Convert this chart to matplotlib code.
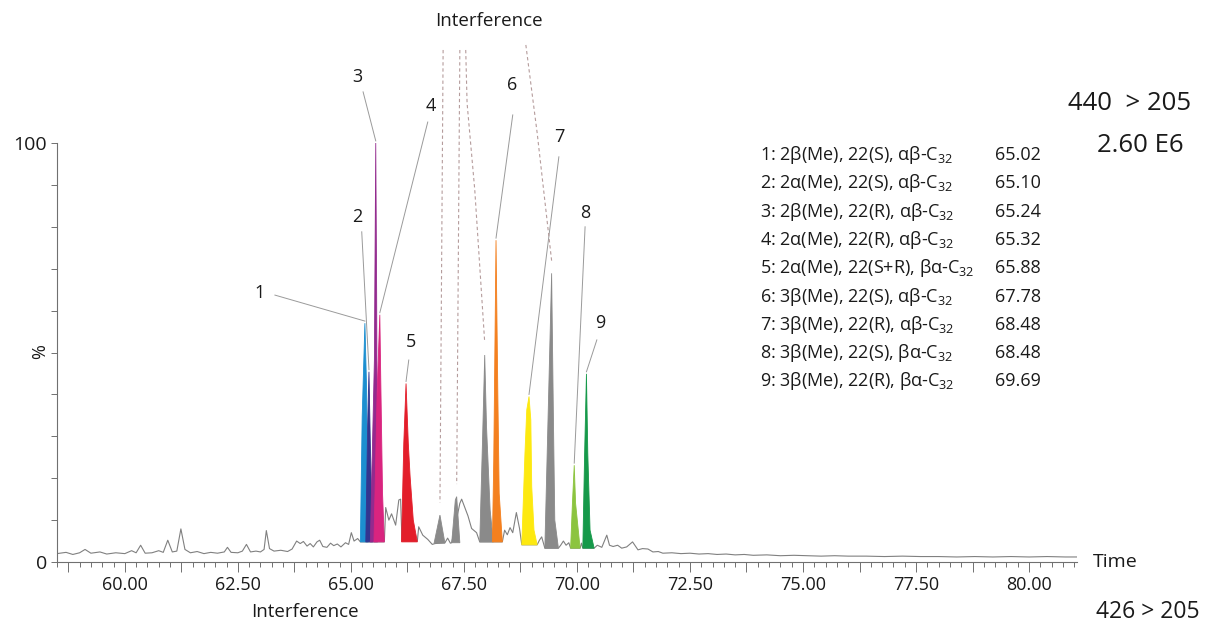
import matplotlib
matplotlib.use('Agg')
import matplotlib.pyplot as plt
from matplotlib.ticker import MultipleLocator, FixedLocator, FuncFormatter

plt.rcParams['font.family'] = ['Open Sans', 'DejaVu Sans']
plt.rcParams['mathtext.fontset'] = 'custom'
plt.rcParams['mathtext.rm'] = 'Open Sans'
plt.rcParams['mathtext.it'] = 'Open Sans:italic'

# --- chromatogram trace, 440 > 205 (time in min, intensity in %) ---
TRACE_POINTS = [
    (58.50, 2.0), (58.70, 2.3), (58.85, 1.8), (59.00, 2.2), (59.12, 3.0), (59.25, 2.1),
    (59.45, 2.4), (59.60, 1.9), (59.80, 2.2), (60.00, 2.0), (60.15, 2.7), (60.25, 2.2),
    (60.35, 4.0), (60.45, 2.1), (60.60, 2.2), (60.75, 2.7), (60.85, 2.3), (60.95, 5.2),
    (61.05, 2.4), (61.15, 2.6), (61.24, 7.9), (61.33, 3.0), (61.45, 2.2), (61.60, 2.5),
    (61.75, 2.0), (61.90, 2.3), (62.05, 2.1), (62.20, 2.4), (62.27, 3.5), (62.35, 2.3),
    (62.50, 2.2), (62.60, 2.6), (62.69, 4.2), (62.78, 2.4), (62.90, 2.6), (63.00, 2.4),
    (63.08, 3.0), (63.13, 7.5), (63.20, 3.2), (63.30, 2.6), (63.45, 2.8), (63.60, 2.5),
    (63.70, 3.1), (63.80, 5.0), (63.88, 4.4), (63.95, 4.9), (64.03, 3.8), (64.10, 4.4),
    (64.17, 3.6), (64.25, 4.8), (64.31, 5.2), (64.38, 3.7), (64.47, 3.5), (64.55, 4.5),
    (64.62, 3.9), (64.70, 4.3), (64.78, 3.6), (64.88, 4.6), (64.95, 4.2), (65.01, 7.0),
    (65.07, 5.0), (65.15, 5.6), (65.21, 4.8), (65.74, 4.8), (65.77, 13.0), (65.84, 10.0),
    (65.90, 11.5), (65.99, 8.8), (66.06, 14.8), (66.10, 15.0), (66.13, 5.0), (66.47, 5.0),
    (66.50, 8.4), (66.59, 6.4), (66.70, 5.4), (66.80, 4.2), (66.86, 4.4), (67.08, 4.6),
    (67.14, 5.7), (67.20, 4.5), (67.23, 4.6), (67.41, 14.0), (67.45, 15.0), (67.52, 13.0),
    (67.59, 11.0), (67.67, 8.0), (67.78, 7.0), (67.85, 4.8), (68.35, 4.8), (68.40, 7.6),
    (68.46, 6.5), (68.52, 8.2), (68.58, 7.0), (68.66, 11.8), (68.73, 8.0), (68.78, 4.1),
    (69.12, 4.1), (69.17, 5.2), (69.22, 6.0), (69.29, 3.3), (69.59, 3.3), (69.64, 4.0),
    (69.70, 5.0), (69.76, 4.0), (69.82, 4.6), (69.86, 3.3), (70.07, 3.3), (70.10, 4.5),
    (70.13, 3.3), (70.38, 3.3), (70.45, 4.0), (70.55, 3.5), (70.66, 6.4), (70.72, 4.0),
    (70.80, 3.7), (70.90, 4.0), (70.99, 3.3), (71.10, 3.6), (71.23, 4.8), (71.35, 2.9),
    (71.45, 3.2), (71.57, 3.1), (71.68, 2.4), (71.80, 2.5), (71.90, 2.1), (72.10, 2.2),
    (72.30, 2.0), (72.50, 2.1), (72.70, 1.9), (72.90, 2.0), (73.10, 1.8), (73.30, 1.9),
    (73.50, 1.7), (73.70, 1.8), (73.90, 1.6), (74.20, 1.7), (74.50, 1.5), (74.80, 1.6),
    (75.10, 1.5), (75.40, 1.4), (75.70, 1.5), (76.00, 1.4), (76.40, 1.4), (76.80, 1.3),
    (77.20, 1.4), (77.60, 1.3), (78.00, 1.3), (78.40, 1.2), (78.80, 1.3), (79.20, 1.2),
    (79.60, 1.3), (80.00, 1.2), (80.40, 1.3), (80.80, 1.2), (81.06, 1.2),
]

# --- identified peaks 1-9 ---
PEAK_POINTS = [
    [(65.21, 4.8), (65.25, 34.7), (65.31, 57.0), (65.35, 40.3), (65.38, 4.8)],
    [(65.33, 4.8), (65.37, 32.3), (65.40, 45.4), (65.43, 28.3), (65.48, 4.8)],
    [(65.43, 4.8), (65.52, 48.2), (65.55, 100.0), (65.57, 64.0), (65.59, 4.8)],
    [(65.51, 4.8), (65.58, 40.3), (65.64, 59.0), (65.66, 44.2), (65.70, 16.4), (65.74, 4.8)],
    [(66.12, 4.8), (66.17, 28.3), (66.22, 42.6), (66.27, 28.3), (66.31, 20.4), (66.38, 10.0), (66.47, 4.8)],
    [(68.13, 4.8), (68.16, 24.3), (68.21, 76.8), (68.25, 40.3), (68.28, 16.4), (68.35, 4.8)],
    [(68.78, 4.1), (68.85, 25.9), (68.89, 36.3), (68.94, 39.5), (68.98, 33.9), (69.00, 18.0), (69.05, 7.6), (69.12, 4.1)],
    [(69.86, 3.3), (69.90, 14.0), (69.94, 23.1), (69.97, 14.0), (70.07, 3.3)],
    [(70.13, 3.3), (70.17, 25.9), (70.21, 44.9), (70.24, 25.9), (70.29, 7.6), (70.38, 3.3)],
]
PEAK_COLORS = ['#1c8fd0', '#33358f', '#932a8e', '#d9247f', '#e31e2a',
               '#f4801f', '#fde910', '#8cc43f', '#16994a']
PEAK_NAMES = ['1', '2', '3', '4', '5', '6', '7', '8', '9']

# number label position and start of its leader line (time, %)
LABEL_POS = [(62.99, 64.2), (65.15, 82.3), (65.15, 115.8), (66.77, 108.8), (66.33, 52.5),
             (68.56, 113.8), (69.62, 101.4), (70.18, 83.3), (70.51, 57.0)]
LEADER_FROM = [(63.32, 63.7), (65.24, 78.8), (65.27, 112.2), (66.70, 105.0), (66.28, 48.2),
               (68.58, 106.7), (69.60, 96.7), (70.18, 80.0), (70.44, 53.0)]

# --- unassigned / interference peaks (gray) ---
GRAY_POINTS = [
    [(66.84, 4.5), (66.97, 11.2), (67.08, 4.5)],
    [(67.23, 4.6), (67.31, 14.8), (67.34, 15.6), (67.41, 4.6)],
    [(67.85, 4.8), (67.91, 28.3), (67.96, 49.4), (68.00, 32.3), (68.08, 12.4), (68.15, 4.8)],
    [(69.29, 3.3), (69.36, 33.9), (69.44, 68.9), (69.48, 33.9), (69.51, 10.0), (69.59, 3.3)],
]
# dashed guides from the "Interference" label down to each gray peak
INTERF_PATHS = [
    [(67.04, 122.2)],
    [(67.41, 122.2)],
    [(67.54, 122.2), (67.57, 109.5), (67.74, 88.8)],
    [(68.87, 123.4), (69.12, 102.4)],
]

# --- compound table ---
COMPOUNDS = [
    '1: 2β(Me), 22(S), αβ-C$_{32}$',
    '2: 2α(Me), 22(S), αβ-C$_{32}$',
    '3: 2β(Me), 22(R), αβ-C$_{32}$',
    '4: 2α(Me), 22(R), αβ-C$_{32}$',
    '5: 2α(Me), 22(S+R), βα-C$_{32}$',
    '6: 3β(Me), 22(S), αβ-C$_{32}$',
    '7: 3β(Me), 22(R), αβ-C$_{32}$',
    '8: 3β(Me), 22(S), βα-C$_{32}$',
    '9: 3β(Me), 22(R), βα-C$_{32}$',
]
RET_TIMES = ['65.02', '65.10', '65.24', '65.32', '65.88', '67.78', '68.48', '68.48', '69.69']

W, H = 1211, 628
fig = plt.figure(figsize=(W / 100, H / 100), dpi=100)
ax = fig.add_axes([57 / W, 1 - 562 / H, (1077 - 57) / W, (562 - 143) / H])

AXIS_COL = '#707070'
TEXT_COL = '#1a1a1a'

tt = [p[0] for p in TRACE_POINTS]
ss = [p[1] for p in TRACE_POINTS]
ax.plot(tt, ss, color='#808080', lw=0.8, zorder=2)

for pts in GRAY_POINTS:
    ax.fill([p[0] for p in pts], [p[1] for p in pts], color='#8a8a8a',
            edgecolor='#8a8a8a', lw=0.6, zorder=3)

for pts, col in zip(PEAK_POINTS, PEAK_COLORS):
    ax.fill([p[0] for p in pts], [p[1] for p in pts], color=col,
            edgecolor=col, lw=0.6, zorder=4)

# leader lines and peak numbers
for pts, name, lab, start in zip(PEAK_POINTS, PEAK_NAMES, LABEL_POS, LEADER_FROM):
    apex = max(pts, key=lambda p: p[1])
    ax.plot([start[0], apex[0]], [start[1], apex[1] + 0.5], color='#9a9a9a',
            lw=0.7, zorder=5, clip_on=False)
    ax.text(lab[0], lab[1], name, fontsize=13, color=TEXT_COL,
            ha='center', va='center', zorder=6, clip_on=False)

for path, pts in zip(INTERF_PATHS, GRAY_POINTS):
    apex = max(pts, key=lambda p: p[1])
    xs = [p[0] for p in path] + [apex[0]]
    ys = [p[1] for p in path] + [apex[1] + 3]
    ax.plot(xs, ys, color='#b59c9c', lw=0.8, ls=(0, (3, 2.5)), zorder=5, clip_on=False)

# axes styling
ax.set_xlim(58.5, 81.06)
ax.set_ylim(0, 100)
for side in ['top', 'right']:
    ax.spines[side].set_visible(False)
for side in ['left', 'bottom']:
    ax.spines[side].set_color(AXIS_COL)
    ax.spines[side].set_linewidth(0.8)

ax.xaxis.set_major_locator(MultipleLocator(1.25))
ax.xaxis.set_minor_locator(MultipleLocator(0.25))
ax.xaxis.set_major_formatter(FuncFormatter(
    lambda v, pos: f'{v:.2f}' if abs(v / 2.5 - round(v / 2.5)) < 1e-6 else ''))
ax.tick_params(axis='x', which='major', length=7, width=0.7, color=AXIS_COL,
               labelsize=13, labelcolor=TEXT_COL, pad=3)
ax.tick_params(axis='x', which='minor', length=3.5, width=0.7, color=AXIS_COL)

ax.yaxis.set_major_locator(FixedLocator([0, 100]))
ax.yaxis.set_minor_locator(MultipleLocator(10))
ax.tick_params(axis='y', which='both', length=4, width=0.7, color=AXIS_COL,
               labelsize=14, labelcolor=TEXT_COL, pad=3)

fig.text(40 / W, 1 - 352 / H, '%', rotation=90, fontsize=13, color=TEXT_COL,
         ha='center', va='center')
fig.text(1093 / W, 1 - 562 / H, 'Time', fontsize=14, color=TEXT_COL,
         ha='left', va='center')

# transition and scale labels
fig.text(1068 / W, 1 - 104 / H, '440  > 205', fontsize=18.5, color=TEXT_COL,
         ha='left', va='center')
fig.text(1097 / W, 1 - 145 / H, '2.60 E6', fontsize=18.5, color=TEXT_COL,
         ha='left', va='center')
fig.text(1200 / W, 1 - 612 / H, '426 > 205', fontsize=16.5, color=TEXT_COL,
         ha='right', va='center')

fig.text(489 / W, 1 - 21 / H, 'Interference', fontsize=13.5, color=TEXT_COL,
         ha='center', va='center')
fig.text(305 / W, 1 - 612 / H, 'Interference', fontsize=13.5, color=TEXT_COL,
         ha='center', va='center')

# compound table
for i, (name, rt) in enumerate(zip(COMPOUNDS, RET_TIMES)):
    y = 1 - (155 + i * 28.3) / H
    fig.text(760 / W, y, name, fontsize=13, color=TEXT_COL, ha='left', va='center')
    fig.text(995 / W, y, rt, fontsize=13, color=TEXT_COL, ha='left', va='center')

fig.savefig('out.png', dpi=100, facecolor='white')
